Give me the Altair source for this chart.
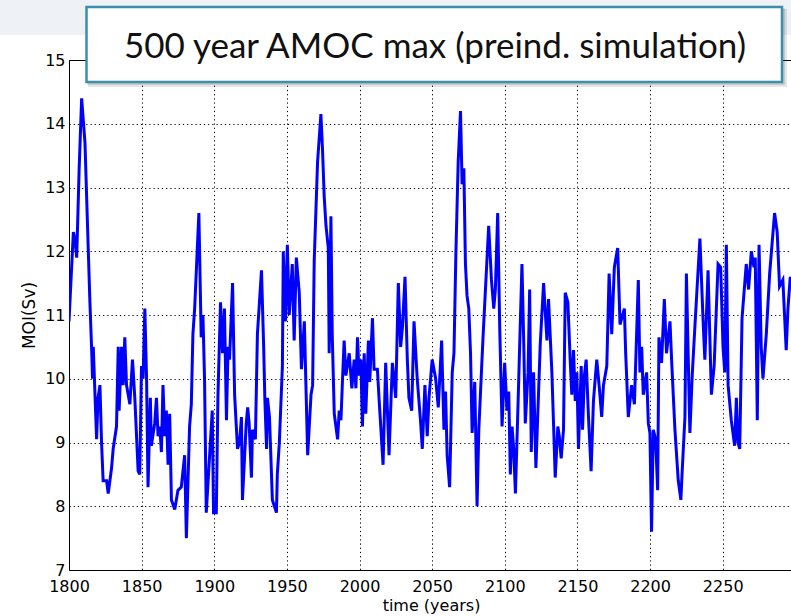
import altair as alt
import pandas as pd

years = [
    1800, 1801.5, 1803, 1804, 1805.3, 1807, 1808.7, 1811, 1813.3, 1814.4, 1815.6, 1816.2, 1816.7, 1819, 1820,
    1821.3, 1822.4, 1823.5, 1825.9, 1827, 1829.3, 1830.4, 1832.7, 1833.9, 1834.5, 1836.2, 1837.3, 1838.4, 1839.6,
    1841.9, 1843.7, 1845.3, 1847.6, 1848.7, 1849.9, 1851, 1852.2, 1853.4, 1854.4, 1856, 1856.7, 1859, 1860.2,
    1861.3, 1862.5, 1863.6, 1864.7, 1865.9, 1867, 1868.2, 1869.3, 1870.5, 1872.8, 1875, 1877.3, 1879.6, 1880.8,
    1883, 1884.2, 1885.3, 1886.5, 1889.4, 1891, 1892.2, 1893.3, 1894.5, 1896.8, 1898.6, 1899.5, 1901.4, 1902.5,
    1904.3, 1905.7, 1907, 1908.4, 1909.5, 1910.5, 1912.6, 1914, 1916, 1917.4, 1918.7, 1919.4, 1922, 1923, 1924,
    1925.6, 1926.3, 1928.3, 1929.7, 1932.5, 1934, 1934.8, 1936, 1936.6, 1938, 1940, 1942.8, 1943.4, 1944.8,
    1946.9, 1947.5, 1949, 1950.3, 1951.6, 1953.7, 1955, 1956.5, 1958.5, 1960, 1962, 1964.3,
    1965.5, 1966.6, 1967.7, 1968.8, 1971.1, 1973.4, 1974.5, 1975.7, 1976.9, 1978.5, 1979.1, 1980.3, 1981.2,
    1982.6, 1984.9, 1986, 1987.2, 1988.3, 1989.4, 1990.6, 1992.9, 1994.7, 1996.3, 1997.5, 1998.6, 1999.7,
    2000.9, 2002, 2003.2, 2004.3, 2006.1, 2007, 2008.9, 2010, 2012.3, 2013.4, 2016.2, 2018, 2020.3, 2022.6,
    2024.9, 2026.7, 2028.3, 2029.5, 2031.3, 2032.9, 2034, 2035.9, 2037.5, 2039.7, 2042.1, 2043.2, 2045, 2046.6,
    2047.8, 2050, 2052.4, 2054.2, 2056.5, 2058.1, 2059.2, 2060.3, 2062, 2063.8, 2065, 2066.3,
    2067.9, 2069.5, 2070.6, 2071.8, 2072.9, 2074, 2075.2, 2076.4, 2077.5, 2079.3, 2080.9, 2082.1, 2083.9, 2085,
    2088.9, 2090.8, 2092.4, 2093.5, 2095.1, 2096.5, 2098.1, 2099.9, 2101.5, 2102.7, 2103.8, 2105, 2106.1,
    2107.3, 2109.1, 2111.8, 2113, 2114.1, 2116, 2117.1, 2118.2, 2119.8, 2121.4, 2124.4, 2126.7, 2129, 2130.1,
    2132.4, 2133.6, 2134.7, 2136.5, 2137.5, 2138.8, 2140.4, 2141.6, 2143.4, 2145, 2146.1, 2147.3, 2148.5,
    2149.6, 2150.7, 2152.6, 2153.5, 2154.8, 2156, 2157.6, 2159.4, 2161, 2163.3, 2164.9, 2166.7, 2167.9, 2170.2,
    2171.8, 2173.6, 2175.4, 2177.7, 2179.3, 2182.3, 2183.2, 2185, 2187.3, 2189.2, 2191.9, 2193, 2194.2, 2195.3,
    2197.6, 2198.8, 2199.9, 2201, 2202.2, 2203.8, 2205.2, 2206.1, 2207.9, 2209.8, 2211.3, 2213.7, 2214.8,
    2217.1, 2219.4, 2221.2, 2222.1, 2224, 2225, 2227.4, 2229, 2230.8, 2234.3, 2236.5, 2237.7, 2239.9, 2242.2,
    2244.1, 2246.8, 2248.6, 2250.2, 2251.4, 2252.5, 2253.7, 2255.9, 2258.2, 2259.4, 2260.5, 2261.7, 2263.3,
    2266.2, 2267.8, 2269.7, 2271.5, 2272.4, 2273.8, 2275, 2276.5, 2277.7, 2280, 2282.3, 2285.7, 2287.5,
    2289.1, 2291.4, 2293.7, 2294.9, 2296.5,
]

moi = [
    10.9, 11.6, 12.3, 12.2, 11.9, 13.3, 14.4, 13.7, 12.0, 11.2, 10.45, 10.0, 10.5, 9.05, 9.7,
    9.9, 9.0, 8.4, 8.4, 8.2, 8.6, 8.9, 9.25, 10.5, 9.5, 10.5, 9.9, 10.65, 9.9,
    9.6, 10.3, 9.7, 8.55, 8.5, 10.2, 10.0, 11.1, 10.0, 8.3, 9.7, 8.95, 9.3, 9.7,
    9.1, 9.25, 8.85, 9.9, 9.1, 9.5, 8.65, 9.45, 8.1, 7.95, 8.25, 8.3, 8.8, 7.5,
    9.25, 9.6, 10.7, 11.1, 12.6, 10.65, 11.0, 10.0, 7.9, 8.8, 9.5, 7.9, 7.9, 9.7,
    11.2, 10.4, 11.1, 9.35, 10.5, 10.3, 11.5, 9.75, 8.9, 9.0, 9.4, 8.1, 9.3, 9.55, 9.3,
    8.45, 9.2, 9.05, 10.7, 11.7, 10.5, 9.7, 8.9, 9.7, 9.4, 8.1, 7.9, 8.5, 9.0,
    10.2, 12.0, 10.9, 12.1, 11.0, 11.8, 10.6, 11.9, 11.35, 10.15, 10.9, 8.8,
    9.3, 9.75, 9.9, 11.85, 13.4, 14.15, 13.6, 12.85, 12.4, 12.05, 10.4, 12.55, 10.7,
    9.45, 9.05, 9.5, 9.35, 10.0, 10.6, 10.05, 10.4, 9.85, 10.3, 9.85, 10.65, 10.05,
    10.3, 9.25, 10.4, 9.45, 10.6, 9.95, 10.95, 10.15, 10.15, 9.7, 8.65, 10.25, 8.8, 10.25,
    9.7, 11.5, 10.5, 10.8, 11.6, 10.3, 9.7, 9.5, 10.9, 10.0, 9.3, 8.9, 9.9, 9.1,
    9.7, 10.3, 10.0, 9.55, 10.6, 9.2, 9.8, 8.8, 8.3, 10.1, 10.4, 11.95,
    13.4, 14.2, 13.05, 13.3, 11.8, 11.3, 11.1, 10.4, 9.15, 9.95, 8.0, 9.2, 10.1, 10.65,
    12.4, 11.55, 11.1, 11.4, 12.6, 10.8, 9.25, 10.25, 9.5, 9.8, 8.5, 9.25, 8.9,
    8.2, 9.6, 11.8, 10.6, 9.3, 10.1, 11.4, 8.85, 10.1, 8.6, 10.55, 11.5, 10.6, 11.25,
    10.1, 9.25, 8.45, 9.25, 9.1, 8.75, 9.2, 11.35, 11.2, 10.3, 9.75, 10.45, 9.65,
    10.1, 8.9, 10.2, 9.2, 10.05, 10.3, 9.4, 8.55, 9.65, 10.3, 9.9, 9.4, 9.9, 10.2,
    11.65, 10.7, 11.75, 12.05, 10.85, 11.1, 10.4, 9.4, 9.9, 9.6, 11.55, 10.1, 10.5, 9.75,
    10.1, 9.3, 9.15, 7.6, 9.2, 9.05, 8.25, 10.65, 10.25, 11.25, 10.4, 10.9, 10.3,
    9.2, 8.4, 8.1, 8.55, 9.4, 11.65, 9.15, 10.05, 10.8, 12.2, 10.9, 10.3, 11.7, 9.75,
    10.2, 11.8, 11.75, 10.5, 10.1, 12.1, 9.9, 9.35, 8.95, 9.7, 9.0, 8.9, 10.95,
    11.8, 11.4, 12.0, 11.75, 11.9, 9.35, 12.1, 10.5, 10.0, 10.7, 11.65, 12.6, 12.3,
    11.45, 11.55, 10.45, 11.1, 11.6,
]

x_ticks = [1800, 1850, 1900, 1950, 2000, 2050, 2100, 2150, 2200, 2250]
y_ticks = [7, 8, 9, 10, 11, 12, 13, 14, 15]
title_text = "500 year AMOC max (preind. simulation)"

df = pd.DataFrame({"year": years, "moi": moi})
deco = pd.DataFrame({"k": [0]})

W, H = 722, 510

line = alt.Chart(df).mark_line(color="#0000ff", strokeWidth=3, clip=True).encode(
    x=alt.X(
        "year:Q",
        scale=alt.Scale(domain=[1800, 2297], nice=False, zero=False),
        axis=alt.Axis(
            values=x_ticks, format="d", grid=True, gridDash=[1.2, 3], gridColor="#000000",
            gridOpacity=1, ticks=False, domain=False, labelFont="DejaVu Sans",
            labelFontSize=16, labelColor="#000000", labelPadding=8, labelFlush=False,
            title="time (years)", titleFont="DejaVu Sans", titleFontSize=16,
            titleFontWeight="normal", titleColor="#000000", titleX=362, titleY=40,
            titleBaseline="alphabetic",
        ),
    ),
    y=alt.Y(
        "moi:Q",
        scale=alt.Scale(domain=[7, 15], nice=False, zero=False),
        axis=alt.Axis(
            values=y_ticks, format="d", grid=True, gridDash=[1.2, 3], gridColor="#000000",
            gridOpacity=1, ticks=False, domain=False, labelFont="DejaVu Sans",
            labelFontSize=16, labelColor="#000000", labelPadding=4,
            title="MOI(Sv)", titleFont="DejaVu Sans", titleFontSize=17,
            titleFontWeight="normal", titleColor="#000000", titleX=-40, titleY=255,
            titleBaseline="middle",
        ),
    ),
)

band = alt.Chart(deco).mark_rect(color="#eef1f5").encode(
    x=alt.value(-69), x2=alt.value(W), y=alt.value(-60), y2=alt.value(-25)
)
shadow1 = alt.Chart(deco).mark_rect(color="#000000", opacity=0.10).encode(
    x=alt.value(19), x2=alt.value(718), y=alt.value(-51), y2=alt.value(27)
)
shadow2 = alt.Chart(deco).mark_rect(color="#000000", opacity=0.12).encode(
    x=alt.value(18), x2=alt.value(716), y=alt.value(-52), y2=alt.value(25)
)
box = alt.Chart(deco).mark_rect(fill="#ffffff", stroke="#3b8fab", strokeWidth=2.5).encode(
    x=alt.value(17.5), x2=alt.value(713), y=alt.value(-53), y2=alt.value(22)
)
title = alt.Chart(deco).mark_text(
    text=title_text, font="Lato", fontSize=35, color="#111111", align="center", baseline="middle"
).encode(x=alt.value(366), y=alt.value(-13))

chart = alt.layer(line, band, shadow1, shadow2, box, title).properties(
    width=W, height=H,
    padding={"left": 69, "top": 60, "right": 0, "bottom": 46},
    autosize=alt.AutoSizeParams(type="none"),
    background="#ffffff",
).configure_view(stroke="#000000", strokeWidth=1)

chart.save("out.html", embed_options={"renderer": "svg", "actions": False})
